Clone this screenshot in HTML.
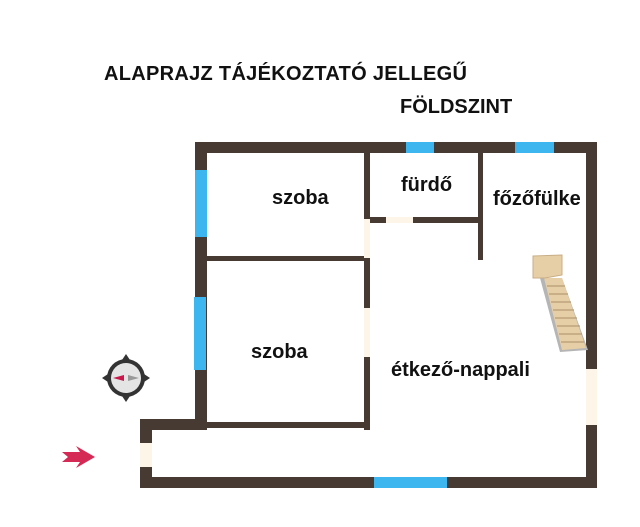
<!DOCTYPE html>
<html><head><meta charset="utf-8"><style>
body{margin:0;width:640px;height:527px;background:#fff;overflow:hidden;position:relative;font-family:"Liberation Sans",sans-serif;}
.t{position:absolute;font-weight:bold;color:#111;white-space:nowrap;font-size:20px;line-height:20px}
</style></head><body>
<svg width="640" height="527" style="position:absolute;left:0;top:0">
<g fill="#463a33">
<rect x="195" y="142" width="402" height="11"/>
<rect x="586" y="142" width="11" height="346"/>
<rect x="140" y="477" width="457" height="11"/>
<rect x="140" y="419" width="12" height="69"/>
<rect x="140" y="419" width="67" height="11"/>
<rect x="195" y="142" width="12" height="288"/>
<rect x="364" y="142" width="6" height="288"/>
<rect x="207" y="256" width="157" height="5"/>
<rect x="207" y="422" width="163" height="6"/>
<rect x="370" y="217" width="108" height="6"/>
<rect x="478" y="153" width="5" height="107"/>
</g>
<g fill="#3db6f0">
<rect x="195" y="170" width="12" height="67"/>
<rect x="194" y="297" width="12" height="73"/>
<rect x="406" y="142" width="28" height="11"/>
<rect x="515" y="142" width="39" height="11"/>
<rect x="374" y="477" width="73" height="11"/>
</g>
<g fill="#fdf6e8">
<rect x="140" y="443" width="12" height="24"/>
<rect x="586" y="369" width="11" height="56"/>
<rect x="364" y="219" width="6" height="39"/>
<rect x="364" y="308" width="6" height="49"/>
<rect x="386" y="217" width="27" height="6"/>
</g>
<polygon points="540,278 562,278 588,350 560,352" fill="#b5b5b5"/>
<polygon points="544,278 562,278 586,348 562,350" fill="#e6cfa6"/>
<g stroke="#a98f68" stroke-width="1">
<line x1="547" y1="286" x2="565" y2="286"/><line x1="549" y1="294" x2="568" y2="294"/>
<line x1="551" y1="302" x2="571" y2="302"/><line x1="553" y1="310" x2="574" y2="310"/>
<line x1="555" y1="318" x2="577" y2="318"/><line x1="557" y1="326" x2="580" y2="326"/>
<line x1="559" y1="334" x2="582" y2="334"/><line x1="561" y1="342" x2="584" y2="342"/>
</g>
<polygon points="533,256 562,255 562,275 545,278 533,278" fill="#e6cfa6" stroke="#c8ae86"/>
<g transform="translate(126,378)">
<circle r="19" fill="#333"/><circle r="15" fill="#e4e4e4"/>
<polygon points="0,-24 -4,-18 4,-18" fill="#333"/><polygon points="0,24 -4,18 4,18" fill="#333"/>
<polygon points="-24,0 -18,-4 -18,4" fill="#333"/><polygon points="24,0 18,-4 18,4" fill="#333"/>
<polygon points="-13,0 -2,-3 -2,3" fill="#c8174a"/><polygon points="13,0 2,-3 2,3" fill="#999"/>
</g>
<polygon points="62,452 80,452 76,446 95,457 76,468 80,462 62,462 68,457" fill="#d42a55"/>
</svg>
<div class="t" style="left:104px;top:64px;letter-spacing:0.3px">ALAPRAJZ TÁJÉKOZTATÓ JELLEGŰ</div>
<div class="t" style="left:400px;top:97px">FÖLDSZINT</div>
<div class="t" style="left:272px;top:188px">szoba</div>
<div class="t" style="left:251px;top:342px">szoba</div>
<div class="t" style="left:401px;top:175px">fürdő</div>
<div class="t" style="left:493px;top:189px">főzőfülke</div>
<div class="t" style="left:391px;top:360px">étkező-nappali</div>
</body></html>
